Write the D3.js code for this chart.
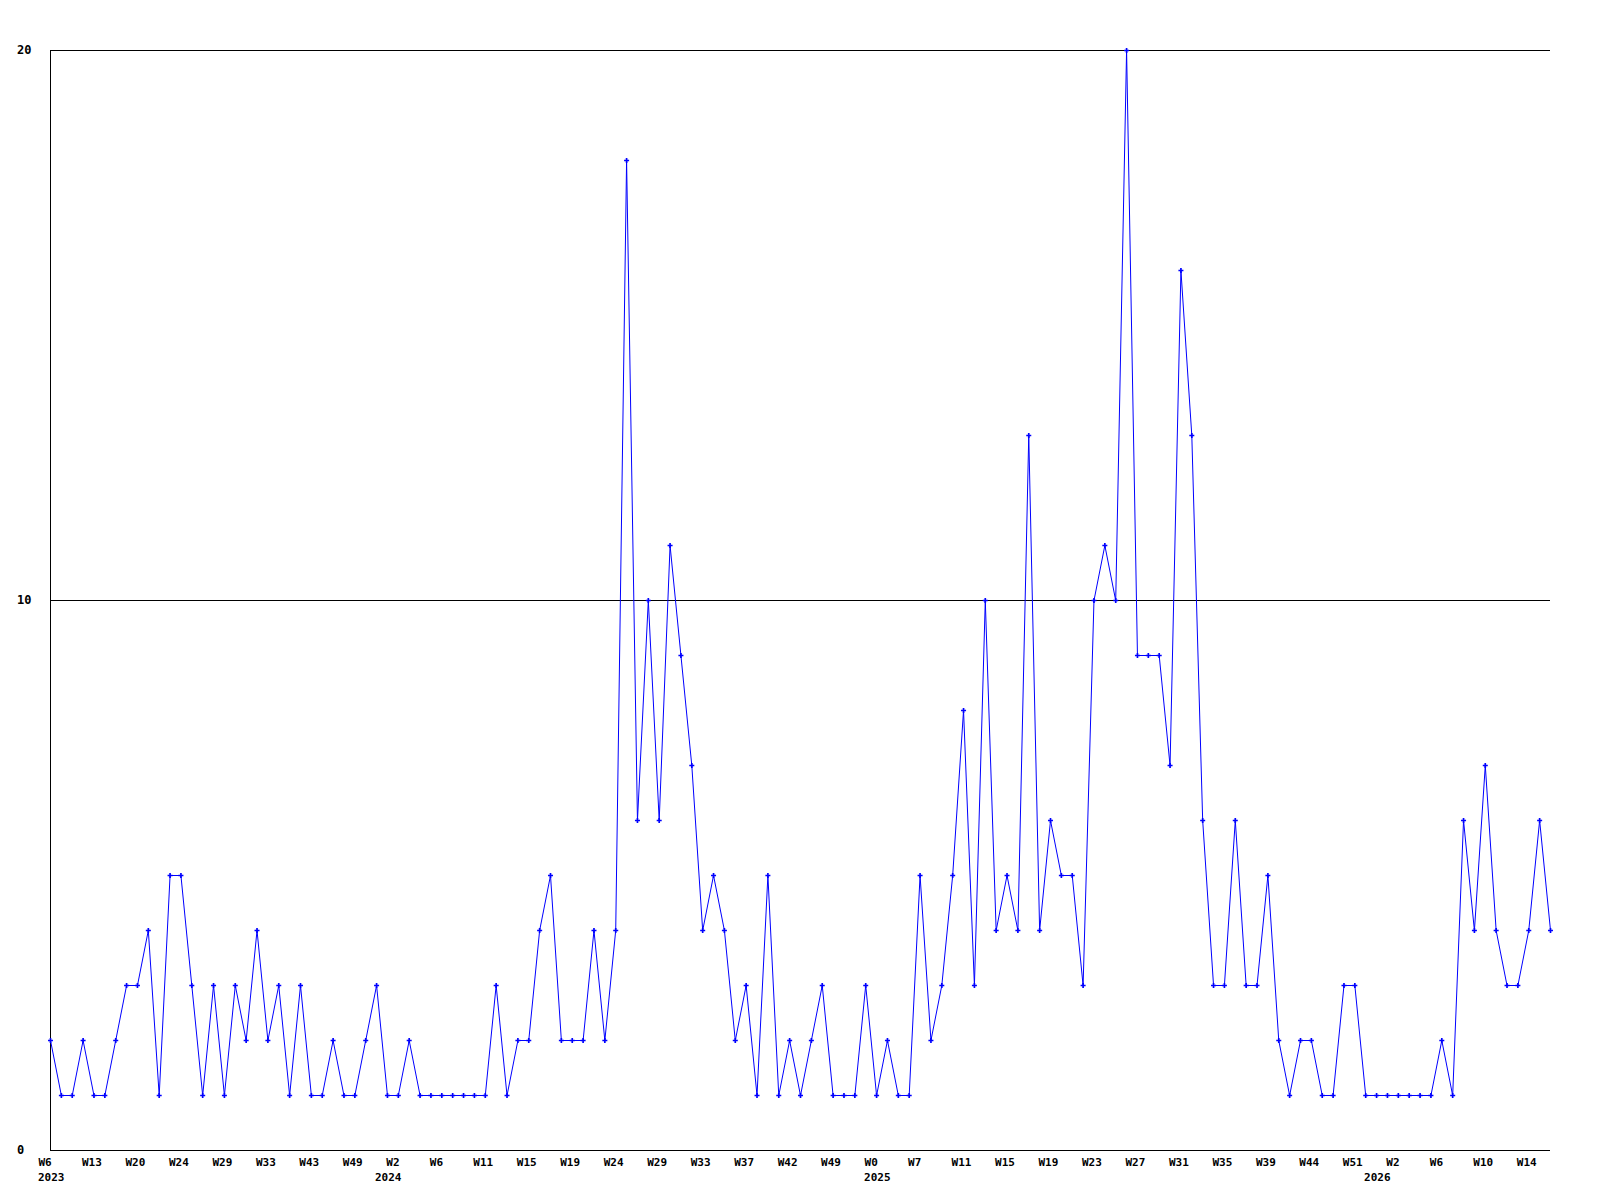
<!DOCTYPE html>
<html>
<head>
<meta charset="utf-8">
<script src="https://cdn.jsdelivr.net/npm/d3@7"></script>
<style>
  body { margin: 0; background: #fff; }
  text { font-family: 'DejaVu Sans Mono', monospace; font-weight: bold; font-size: 11px; fill: #000; }
</style>
</head>
<body>
<script>
// weekly counts, one per point
const counts = [
  2, 1, 1, 2, 1, 1, 2, 3, 3, 4, 1, 5, 5, 3, 1, 3, 1, 3, 2, 4, 2, 3, 1, 3, 1, 1, 2, 1, 1, 2, 3, 1, 1, 2, 1, 1,
  1, 1, 1, 1, 1, 3, 1, 2, 2, 4, 5, 2, 2, 2, 4, 2, 4,
  18, 6, 10, 6, 11, 9, 7, 4, 5, 4, 2, 3, 1, 5, 1, 2, 1, 2, 3, 1, 1, 1, 3, 1, 2, 1,
  1, 5, 2, 3, 5, 8, 3, 10, 4, 5, 4, 13, 4, 6, 5, 5, 3, 10, 11, 10, 20, 9, 9, 9, 7, 16, 13,
  6, 3, 3, 6, 3, 3, 5, 2, 1, 2, 2, 1, 1, 3, 3, 1, 1, 1, 1, 1, 1, 1, 2, 1, 6, 4, 7, 4, 3, 3, 4, 6, 4
]

// x labels (every 4th point)
const weekLabels = ['W6', 'W13', 'W20', 'W24', 'W29', 'W33', 'W43', 'W49',
  'W2', 'W6', 'W11', 'W15', 'W19', 'W24', 'W29', 'W33', 'W37', 'W42', 'W49',
  'W0', 'W7', 'W11', 'W15', 'W19', 'W23', 'W27', 'W31', 'W35', 'W39', 'W44', 'W51',
  'W2', 'W6', 'W10', 'W14']
const years = ['2023', '2024', '2025', '2026']
const yearAt = [0, 31, 76, 122]   // point index where the year starts
const yTicks = [0, 10, 20]

const w = 1600
const h = 1200
const mLeft = 50, mRight = 1550, mTop = 50, mBottom = 1150

const x = d3.scaleLinear().domain([0, counts.length - 1]).range([mLeft, mRight])
const y = d3.scaleLinear().domain([0, 20]).range([mBottom, mTop])

const svg = d3.select('body')
  .append('svg')
  .attr('width', w)
  .attr('height', h)

// gridlines / axes
svg.selectAll('line.grid')
  .data(yTicks)
  .enter()
  .append('line')
  .attr('x1', mLeft)
  .attr('x2', mRight)
  .attr('y1', d => y(d) + 0.5)
  .attr('y2', d => y(d) + 0.5)
  .attr('stroke', '#000')
  .attr('shape-rendering', 'crispEdges')

svg.append('line')
  .attr('x1', mLeft + 0.5)
  .attr('x2', mLeft + 0.5)
  .attr('y1', mTop)
  .attr('y2', mBottom + 1)
  .attr('stroke', '#000')
  .attr('shape-rendering', 'crispEdges')

svg.selectAll('text.ylab')
  .data(yTicks)
  .enter()
  .append('text')
  .attr('x', 17)
  .attr('y', d => y(d) + 4)
  .style('font-size', '12px')
  .text(d => d)

// week labels through a bottom axis
const xAxis = d3.axisBottom(x)
  .tickValues(weekLabels.map((d, i) => i * 4))
  .tickFormat((d, i) => weekLabels[i])
  .tickSize(0)

const gx = svg.append('g')
  .attr('transform', `translate(0,${mBottom})`)
  .call(xAxis)
gx.select('.domain').remove()
gx.selectAll('text')
  .attr('text-anchor', 'start')
  .attr('x', -12)
  .attr('y', 8)
  .attr('dy', '0.71em')
  .attr('fill', '#000')
  .style('font-family', "'DejaVu Sans Mono', monospace")
  .style('font-weight', 'bold')
  .style('font-size', '11px')

svg.selectAll('text.year')
  .data(years)
  .enter()
  .append('text')
  .attr('x', (d, i) => x(yearAt[i]) - 12)
  .attr('y', mBottom + 31)
  .text(d => d)

// series
const line = d3.line()
  .x((d, i) => x(i) + 0.5)
  .y(d => y(d) + 0.5)

svg.append('path')
  .datum(counts)
  .attr('d', line)
  .attr('fill', 'none')
  .attr('stroke', '#0000ff')
  .attr('stroke-width', 1)

svg.selectAll('path.pt')
  .data(counts)
  .enter()
  .append('path')
  .attr('d', d3.symbol(d3.symbolCross, 14))
  .attr('transform', (d, i) => `translate(${x(i) + 0.5},${y(d) + 0.5})`)
  .attr('fill', '#0000ff')
</script>
</body>
</html>
